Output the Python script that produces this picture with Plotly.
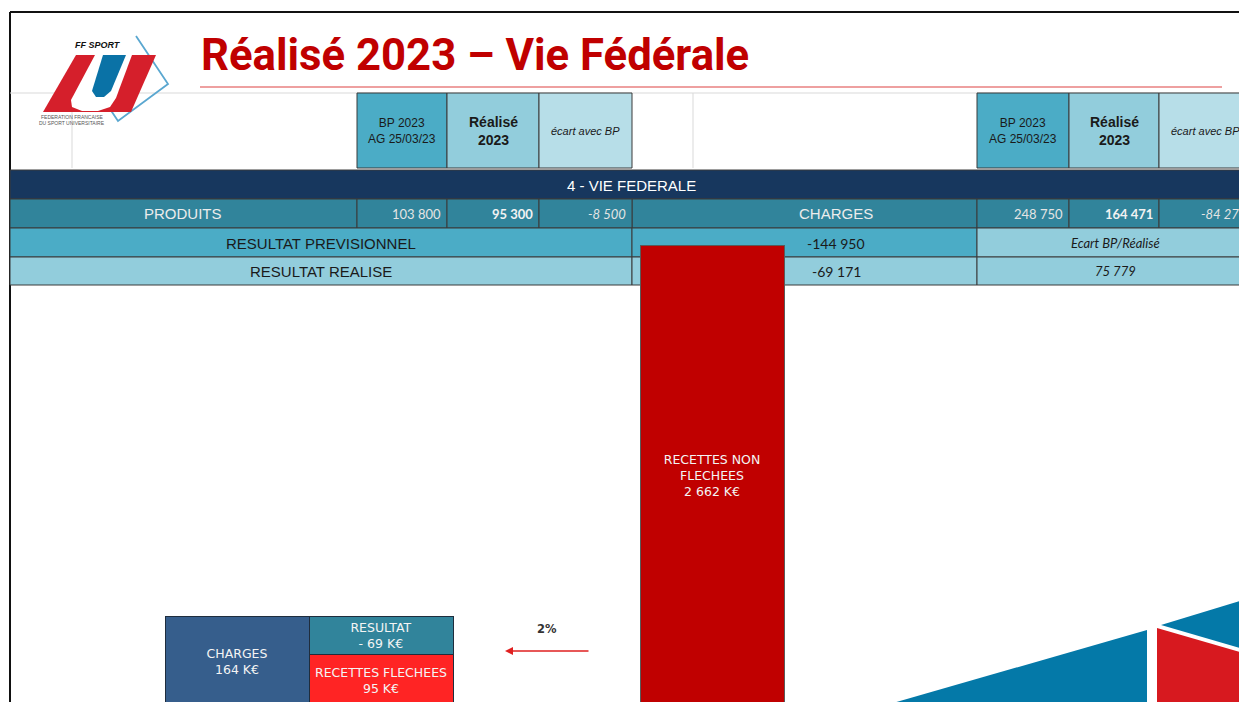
import plotly.graph_objects as go

# ---------------- data ----------------
title_text = "Réalisé 2023 – Vie Fédérale"
header_labels = ["BP 2023<br>AG 25/03/23", "<b>Réalisé<br>2023</b>", "<i>écart avec BP</i>"]
section_title = "4 - VIE FEDERALE"
produits_label = "PRODUITS"
produits_values = [103800, 95300, -8500]
charges_label = "CHARGES"
charges_values = [248750, 164471, -84279]
resultat_prev_label = "RESULTAT PREVISIONNEL"
resultat_prev_value = -144950
resultat_real_label = "RESULTAT REALISE"
resultat_real_value = -69171
ecart_label = "Ecart BP/Réalisé"
ecart_value = 75779

box_labels = ["CHARGES", "RECETTES FLECHEES", "RESULTAT"]
box_values_k = [164, 95, -69]
big_label = "RECETTES NON<br>FLECHEES"
big_value_k = 2662
arrow_label = "2%"

# ---------------- helpers ----------------
W, H = 1239, 702


def px(x):
    return x / W


def py(y):
    return 1 - y / H


def fmt(v):
    return f"{v:,}".replace(",", " ")


def fmt_k(v):
    s = f"{abs(v):,}".replace(",", " ")
    return ("- " if v < 0 else "") + s + " K€"


def path(points, close=True):
    s = "M " + " L ".join(f"{px(x):.5f},{py(y):.5f}" for x, y in points)
    return s + (" Z" if close else "")


shapes = []
annots = []


def rect(x0, y0, x1, y1, fill, line="#3a3a3a", lw=1, layer="below"):
    shapes.append(dict(type="rect", xref="paper", yref="paper",
                       x0=px(x0), x1=px(x1), y0=py(y1), y1=py(y0),
                       fillcolor=fill, line=dict(color=line, width=lw), layer=layer))


def line(x0, y0, x1, y1, color, lw=1, layer="below"):
    shapes.append(dict(type="line", xref="paper", yref="paper",
                       x0=px(x0), x1=px(x1), y0=py(y0), y1=py(y1),
                       line=dict(color=color, width=lw), layer=layer))


def text(x, y, t, size=12, color="#1a1a1a", family="Liberation Sans", anchor="center"):
    annots.append(dict(x=px(x), y=py(y), xref="paper", yref="paper", text=t,
                       showarrow=False, xanchor=anchor, yanchor="middle",
                       font=dict(size=size, color=color, family=family)))


# ---------------- frame & grid ----------------
line(10, 12, 1239, 12, "#111111", 2)
line(10, 12, 10, 702, "#111111", 2)
line(10, 93, 1239, 93, "#d9d9d9", 1)
line(72, 93, 72, 168, "#d9d9d9", 1)
line(693, 93, 693, 168, "#d9d9d9", 1)
line(200, 87, 1222, 87, "#eea0a0", 2)

# ---------------- title ----------------
text(199, 55, f"<b>{title_text}</b>", 43.7, "#c00000", "Roboto", "left")

# ---------------- logo ----------------
shapes.append(dict(type="path", xref="paper", yref="paper",
                   path=path([(136, 36), (168, 84), (118, 121), (104, 100)], close=False),
                   line=dict(color="#5aa7d0", width=1.8), layer="above"))
shapes.append(dict(type="path", xref="paper", yref="paper",
                   path=path([(76, 55), (156, 55), (131, 112), (43, 112)]),
                   fillcolor="#d51f2b", line=dict(width=0), layer="above"))
shapes.append(dict(type="path", xref="paper", yref="paper",
                   path=path([(95, 55), (132, 55), (116, 98), (110, 107), (98, 111),
                              (82, 111), (72, 107), (71, 100)]),
                   fillcolor="#ffffff", line=dict(width=0), layer="above"))
shapes.append(dict(type="path", xref="paper", yref="paper",
                   path=path([(103, 55), (126, 55), (111, 91), (104, 97), (96, 97), (92, 91)]),
                   fillcolor="#0a72a6", line=dict(width=0), layer="above"))
text(98, 45, "<b><i>FF SPORT</i></b>", 9, "#111111", "Liberation Sans")
text(72, 117, "FEDERATION FRANCAISE", 5, "#555555", "Liberation Sans")
text(72, 123, "DU SPORT UNIVERSITAIRE", 5, "#555555", "Liberation Sans")

# ---------------- table ----------------
C_BP, C_RE, C_EC = "#4bacc6", "#92cddc", "#b7dee8"
C_NAVY, C_TEAL = "#17375e", "#31849b"
header_fills = [C_BP, C_RE, C_EC]
header_sizes = [12, 14, 11]
for group in ([357, 447, 539, 632], [977, 1069, 1159, 1252]):
    for i in range(3):
        x0, x1 = group[i], group[i + 1]
        rect(x0, 93, x1, 168, header_fills[i])
        text((x0 + x1) / 2, 131, header_labels[i], header_sizes[i], "#1a1a1a")

rect(10, 170, 1252, 199, C_NAVY)
text(631, 185, section_title, 15, "#ffffff")

# produits / charges row
rect(10, 199, 357, 228, C_TEAL)
text(183, 214, produits_label, 15, "#ececec")
rect(632, 199, 977, 228, C_TEAL)
text(836, 214, charges_label, 15, "#ececec")
for group, vals in (([357, 447, 539, 632], produits_values), ([977, 1069, 1159, 1252], charges_values)):
    for i in range(3):
        x0, x1 = group[i], group[i + 1]
        rect(x0, 199, x1, 228, C_TEAL)
        t = fmt(vals[i])
        if i == 1:
            t = f"<b>{t}</b>"
        if i == 2:
            t = f"<i>{t}</i>"
        text(x1 - 4, 214, t, 13, "#f2f2f2" if i == 1 else "#e4e4e4", "Lato", "right")

# resultat previsionnel
rect(10, 228, 632, 257, C_BP)
text(321, 243, resultat_prev_label, 15)
rect(632, 228, 977, 257, C_BP)
text(836, 243, fmt(resultat_prev_value), 14, "#1a1a1a", "Lato")
rect(977, 228, 1252, 257, C_RE)
text(1115, 243, f"<i>{ecart_label}</i>", 13, "#1a1a1a", "Lato")

# resultat realise
rect(10, 257, 632, 285, C_RE)
text(321, 271, resultat_real_label, 15)
rect(632, 257, 977, 285, C_RE)
text(836, 271, fmt(resultat_real_value), 14, "#1a1a1a", "Lato")
rect(977, 257, 1252, 285, C_RE)
text(1115, 271, f"<i>{fmt(ecart_value)}</i>", 13, "#1a1a1a", "Lato")

# ---------------- decorative bottom-right triangles ----------------
shapes.append(dict(type="path", xref="paper", yref="paper",
                   path=path([(893, 703), (1147, 630), (1147, 703)]),
                   fillcolor="#0479a8", line=dict(width=0), layer="above"))
shapes.append(dict(type="path", xref="paper", yref="paper",
                   path=path([(1157, 628), (1240, 652), (1240, 703), (1157, 703)]),
                   fillcolor="#d7191f", line=dict(width=0), layer="above"))
shapes.append(dict(type="path", xref="paper", yref="paper",
                   path=path([(1161, 625), (1240, 601), (1240, 648)]),
                   fillcolor="#0479a8", line=dict(width=0), layer="above"))

# ---------------- bars ----------------
charges_k, flechees_k, resultat_k = box_values_k
bar_font = dict(family="DejaVu Sans", size=12.5, color="#f4f4f4")
fig = go.Figure()
fig.add_trace(go.Bar(x=[237], y=[charges_k], width=144, marker=dict(color="#365e8c", line=dict(color="#1f2d3d", width=1)),
                     text=[f"{box_labels[0]}<br>{fmt_k(charges_k)}"]))
fig.add_trace(go.Bar(x=[381], y=[flechees_k], width=144, marker=dict(color="#ff2424", line=dict(color="#1f2d3d", width=1)),
                     text=[f"{box_labels[1]}<br>{fmt_k(flechees_k)}"]))
fig.add_trace(go.Bar(x=[381], y=[abs(resultat_k)], width=144, marker=dict(color="#31849b", line=dict(color="#1f2d3d", width=1)),
                     text=[f"{box_labels[2]}<br>{fmt_k(resultat_k)}"]))
fig.add_trace(go.Bar(x=[712], y=[big_value_k], width=144, yaxis="y2",
                     marker=dict(color="#c00000", line=dict(color="#5a5a5a", width=1)),
                     text=[f"{big_label}<br>{fmt_k(big_value_k)}"]))
fig.update_traces(textposition="inside", insidetextanchor="middle", textangle=0,
                  textfont=bar_font, insidetextfont=bar_font, hoverinfo="skip",
                  constraintext="none")

# arrow
annots.append(dict(x=px(505), y=py(651), xref="paper", yref="paper", ax=85, ay=0,
                   text="", showarrow=True, arrowhead=2,
                   arrowsize=1, arrowwidth=1.6, arrowcolor="#e02020"))
text(547, 629, f"<b>{arrow_label}</b>", 11.5, "#333333", "DejaVu Sans")

axis_common = dict(showgrid=False, zeroline=False, showticklabels=False, showline=False, fixedrange=True)
fig.update_layout(
    width=W, height=H, margin=dict(l=0, r=0, t=0, b=0),
    paper_bgcolor="#ffffff", plot_bgcolor="rgba(0,0,0,0)",
    barmode="stack", showlegend=False,
    xaxis=dict(range=[0, W], domain=[0, 1], **axis_common),
    yaxis=dict(range=[7.4, 1300.4], domain=[0, 1], **axis_common),
    yaxis2=dict(range=[23.1, 4076.7], overlaying="y", **axis_common),
    shapes=shapes, annotations=annots,
)
fig.write_html("out.html", config={"displayModeBar": False},
               post_script="document.body.style.margin='0';document.body.style.overflow='hidden';")
